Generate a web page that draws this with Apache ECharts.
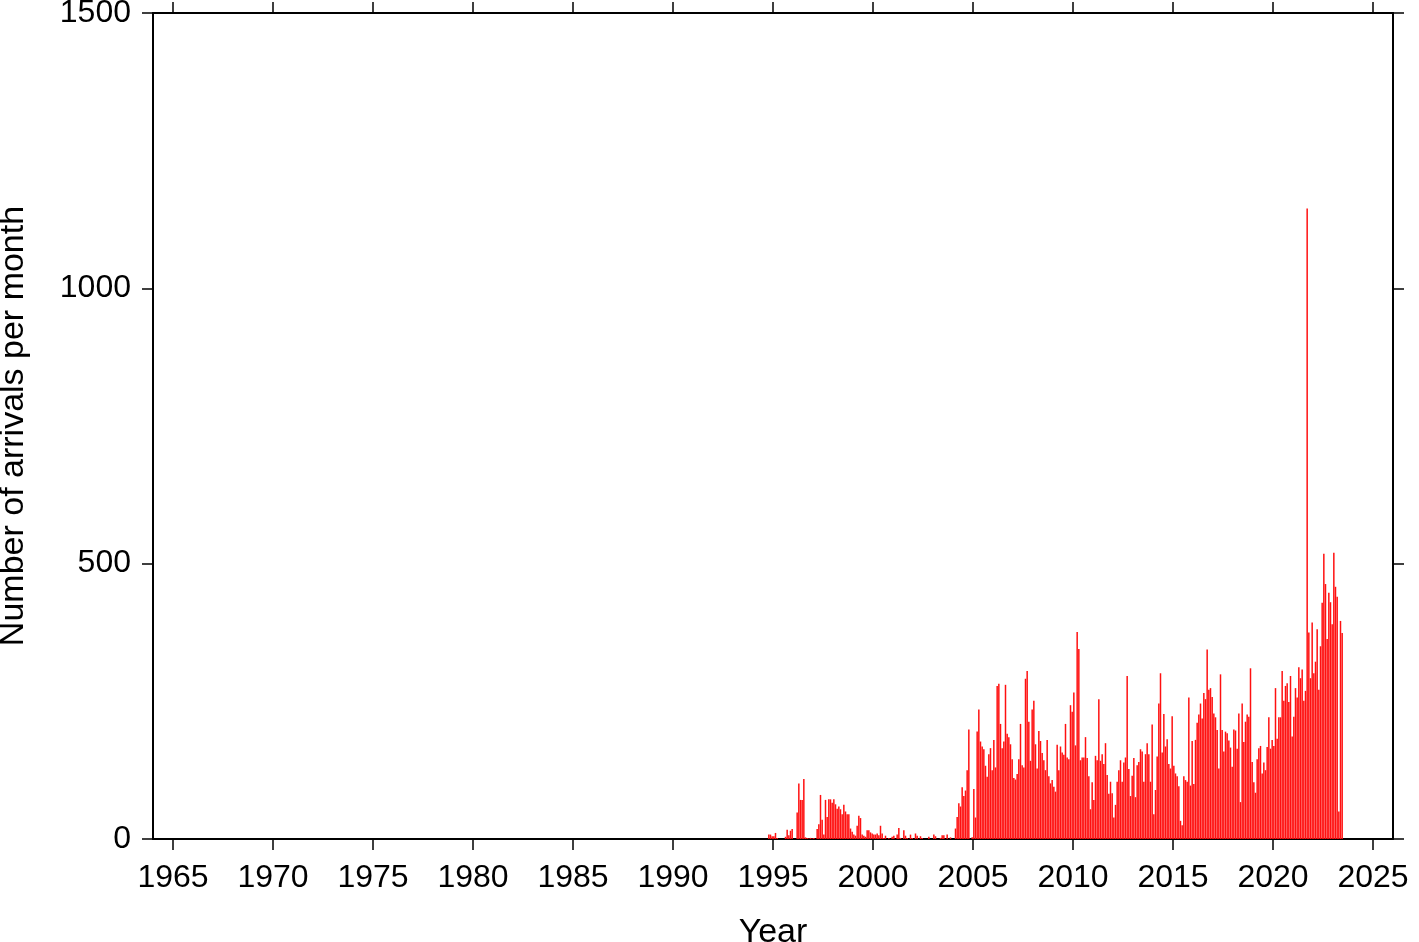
<!DOCTYPE html>
<html>
<head>
<meta charset="utf-8">
<script src="https://cdn.jsdelivr.net/npm/echarts@6/dist/echarts.min.js"></script>
<style>html,body{margin:0;padding:0;background:#fff;}#c{width:1419px;height:942px;}</style>
</head>
<body>
<div id="c"></div>
<script>
// First month of the data: October 1994 (month index 9, zero-based)
var startYear = 1994;
var startMonth = 9;
// Number of arrivals per month, consecutive months from 1994-10
var arrivals = [
  8,8,5,5,11,2,0,0,0,0,4,17,7,15,18,0,0,48,101,71,71,109,3,2,1,2,1,2,0,18,27,80,35,8,71,40,72,
  72,66,72,63,55,59,54,45,62,50,45,45,
  19,13,8,6,24,42,38,8,6,4,16,16,12,10,8,8,10,7,24,10,2,6,0,2,0,4,6,0,8,20,2,0,16,6,2,0,8,2,0,10,6,0,
  5,2,0,0,0,4,0,0,8,5,0,0,2,7,7,0,8,0,3,0,0,
  19,40,65,59,94,78,88,125,199,0,3,91,39,195,235,177,168,163,133,113,154,165,125,180,130,278,282,209,165,177,280,191,185,
  172,145,111,108,118,145,209,134,130,291,305,213,142,235,251,172,128,196,178,156,143,125,180,114,101,107,95,86,171,125,168,157,153,
  209,148,145,243,231,266,170,376,345,143,148,148,185,147,114,54,103,71,151,143,254,142,154,136,174,116,82,104,83,39,62,104,125,
  143,104,139,148,296,127,78,115,147,76,134,140,163,159,104,154,174,154,104,208,45,89,150,246,301,157,227,168,181,136,128,223,133,
  119,114,96,33,25,114,107,104,257,97,178,100,180,211,226,246,219,265,254,344,271,274,258,228,221,198,128,299,198,159,195,192,179,
  166,131,199,197,164,228,67,246,176,213,226,222,310,140,103,84,145,165,169,119,139,125,167,221,164,180,169,274,182,221,221,305,251,
  278,283,249,296,186,222,274,257,312,292,308,251,269,1145,375,292,393,301,322,381,271,350,429,518,463,363,447,430,390,520,458,440,50,396,374
];
var yearTicks = [1965,1970,1975,1980,1985,1990,1995,2000,2005,2010,2015,2020,2025];
var yTicks = [0,500,1000,1500];

var data = arrivals.map(function(v, i){
  var m = startMonth + i;
  return [startYear + (m + 0.5) / 12, v];
});

var chart = echarts.init(document.getElementById('c'), null, {renderer:'canvas'});
var font = 'Liberation Sans, Arial, Helvetica, sans-serif';
var lineStyle = {color:'#000', width:2};
var plain = function(v){ return String(v); };
chart.setOption({
  animation:false,
  backgroundColor:'#fff',
  grid:{left:153, right:26, top:13, bottom:103, containLabel:false, outerBoundsMode:'none'},
  xAxis:[{
    type:'value', min:1964, max:2026, position:'bottom',
    axisLine:{show:true, onZero:false, lineStyle:lineStyle},
    axisTick:{show:true, inside:false, length:11, lineStyle:{color:'#000', width:1.5}, customValues:yearTicks},
    axisLabel:{show:true, customValues:yearTicks, formatter:plain, color:'#000', fontSize:32, fontFamily:font, margin:23},
    splitLine:{show:false},
    name:'Year', nameLocation:'middle', nameGap:77,
    nameTextStyle:{color:'#000', fontSize:34, fontFamily:font}
  },{
    type:'value', min:1964, max:2026, position:'top',
    axisLine:{show:true, onZero:false, lineStyle:lineStyle},
    axisTick:{show:true, inside:false, length:11, lineStyle:{color:'#000', width:1.5}, customValues:yearTicks},
    axisLabel:{show:false},
    splitLine:{show:false}
  }],
  yAxis:[{
    type:'value', min:0, max:1500, interval:500, position:'left',
    axisLine:{show:true, onZero:false, lineStyle:lineStyle},
    axisTick:{show:true, inside:false, length:11, lineStyle:{color:'#000', width:1.5}},
    axisLabel:{show:true, formatter:plain, color:'#000', fontSize:32, fontFamily:font, margin:22},
    splitLine:{show:false},
    name:'Number of arrivals per month', nameLocation:'middle', nameGap:122, nameRotate:90,
    nameTextStyle:{color:'#000', fontSize:34, fontFamily:font}
  },{
    type:'value', min:0, max:1500, interval:500, position:'right',
    axisLine:{show:true, onZero:false, lineStyle:lineStyle},
    axisTick:{show:true, inside:false, length:11, lineStyle:{color:'#000', width:1.5}},
    axisLabel:{show:false},
    splitLine:{show:false}
  }],
  series:[{
    type:'bar', xAxisIndex:0, yAxisIndex:0,
    data:data, barWidth:1.5,
    itemStyle:{color:'#ff1010'},
    emphasis:{disabled:true}
  }]
});
</script>
</body>
</html>
